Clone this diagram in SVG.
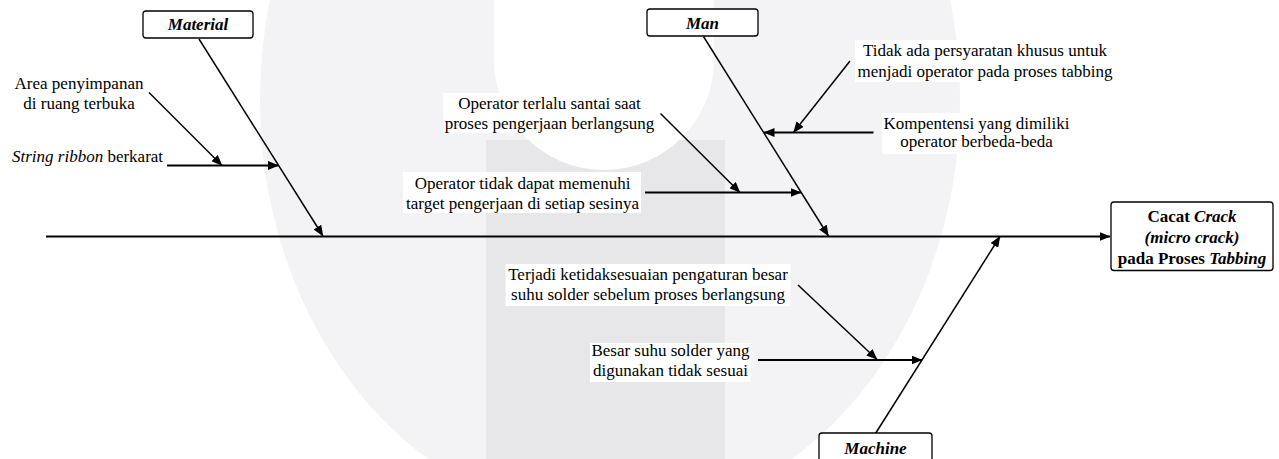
<svg xmlns="http://www.w3.org/2000/svg" width="1279" height="459" viewBox="0 0 1279 459">
<defs>
<marker id="ah" markerUnits="userSpaceOnUse" markerWidth="11" markerHeight="9" refX="10.5" refY="4.5" orient="auto">
<path d="M0,0 L11,4.5 L0,9 Z" fill="#000"/>
</marker>
<style>
.t{font-family:"Liberation Serif","Times New Roman",serif;font-size:17px;fill:#000}
.c{text-anchor:middle}
.bi{font-weight:bold;font-style:italic}
.b{font-weight:bold}
.i{font-style:italic}
.box{fill:#fff;stroke:#000;stroke-width:1.3}
.bg{fill:#fff}
.ln{stroke:#000;stroke-width:1.5;fill:none;marker-end:url(#ah)}
.hl{stroke:#000;stroke-width:2;fill:none;marker-end:url(#ah)}
</style>
</defs>
<rect width="1279" height="459" fill="#fff"/>
<g id="watermark">
<ellipse cx="610" cy="100" rx="350" ry="420" fill="#f3f3f5"/>
<rect x="486" y="140" width="239" height="319" fill="#e7e7ea"/>
<path d="M494,0 L714,0 L714,60 A110,110 0 0 1 494,60 Z" fill="#fff"/>
</g>
<g id="connectors">
<line class="hl" x1="46" y1="236.5" x2="1110" y2="236.5"/>
<line class="ln" x1="199" y1="39" x2="323" y2="236"/>
<line class="ln" x1="149" y1="92.5" x2="222" y2="165.5"/>
<line class="hl" x1="167" y1="165.5" x2="278.5" y2="165.5"/>
<line class="ln" x1="703.5" y1="36.5" x2="828.5" y2="236"/>
<line class="ln" x1="850" y1="61" x2="793.5" y2="132.5"/>
<line class="hl" x1="873.5" y1="132.5" x2="764" y2="132.5"/>
<line class="ln" x1="660.5" y1="113.5" x2="740" y2="192.5"/>
<line class="hl" x1="645" y1="192.5" x2="801" y2="192.5"/>
<line class="ln" x1="875.5" y1="433.5" x2="1000" y2="236.5"/>
<line class="ln" x1="798" y1="285" x2="877" y2="359.5"/>
<line class="hl" x1="758" y1="360" x2="922" y2="360"/>
</g>
<g id="material">
<rect class="box" x="143" y="11" width="110" height="27" rx="3"/>
<text class="t c bi" x="198" y="30">Material</text>
</g>
<g id="man">
<rect class="box" x="647" y="9" width="111" height="27" rx="3"/>
<text class="t c bi" x="702.5" y="28.5">Man</text>
</g>
<g id="machine">
<rect class="box" x="819" y="433" width="113" height="30" rx="3"/>
<text class="t c bi" x="875.5" y="453.5">Machine</text>
</g>
<g id="effect">
<rect class="box" x="1111" y="202" width="162" height="68.5" rx="3"/>
<text class="t c b" x="1192" y="221.5">Cacat <tspan class="i">Crack</tspan></text>
<text class="t c bi" x="1192" y="243">(micro crack)</text>
<text class="t c b" x="1192" y="263.5">pada Proses <tspan class="i">Tabbing</tspan></text>
</g>
<g id="cause-area">
<text class="t c" x="79" y="88.5">Area penyimpanan</text>
<text class="t c" x="79" y="108.5">di ruang terbuka</text>
</g>
<g id="cause-string">
<text class="t" x="12" y="161.5"><tspan class="i">String ribbon</tspan> berkarat</text>
</g>
<g id="cause-tidak">
<rect class="bg" x="855" y="40" width="260" height="42"/>
<text class="t c" x="985" y="56">Tidak ada persyaratan khusus untuk</text>
<text class="t c" x="985" y="76.5">menjadi operator pada proses tabbing</text>
</g>
<g id="cause-kompetensi">
<rect class="bg" x="882" y="113" width="190" height="41"/>
<text class="t c" x="976.5" y="128.5">Kompentensi yang dimiliki</text>
<text class="t c" x="976.5" y="147">operator berbeda-beda</text>
</g>
<g id="cause-santai">
<rect class="bg" x="443" y="93" width="212" height="40"/>
<text class="t c" x="549.5" y="108.5">Operator terlalu santai saat</text>
<text class="t c" x="549.5" y="128.5">proses pengerjaan berlangsung</text>
</g>
<g id="cause-target">
<rect class="bg" x="403" y="172" width="238" height="41"/>
<text class="t c" x="522.5" y="188.5">Operator tidak dapat memenuhi</text>
<text class="t c" x="522.5" y="208.5">target pengerjaan di setiap sesinya</text>
</g>
<g id="cause-terjadi">
<rect class="bg" x="505.5" y="264" width="285" height="42"/>
<text class="t c" x="648" y="279.5">Terjadi ketidaksesuaian pengaturan besar</text>
<text class="t c" x="648" y="299.5">suhu solder sebelum proses berlangsung</text>
</g>
<g id="cause-besar">
<rect class="bg" x="590" y="343" width="161" height="39"/>
<text class="t c" x="670.5" y="355.5">Besar suhu solder yang</text>
<text class="t c" x="670.5" y="375.5">digunakan tidak sesuai</text>
</g>
</svg>
